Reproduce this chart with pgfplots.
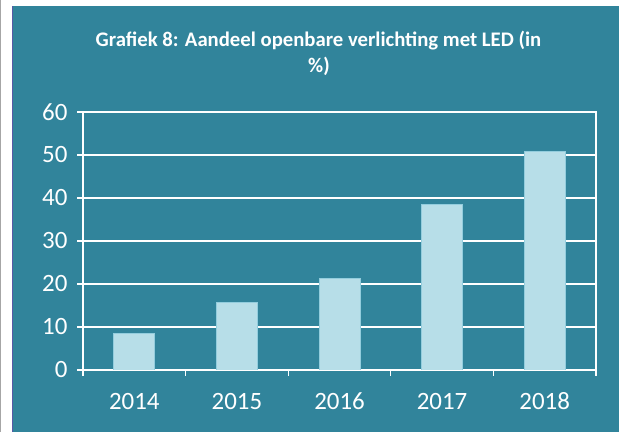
\documentclass[border=0pt]{standalone}
\usepackage{pgfplots}
\pgfplotsset{compat=1.18}
\usepackage{fontspec}
\setmainfont{Carlito}
\definecolor{bgteal}{HTML}{31849B}
\definecolor{barblue}{HTML}{B7DEE8}
\definecolor{barline}{HTML}{93CDDD}
\begin{document}
\begin{tikzpicture}[x=1bp,y=1bp]
\fill[white] (0,0) rectangle (619,432);
\fill[black!35] (0,0) rectangle (1.3,432);
\fill[bgteal] (12,0) rectangle (619,426);
\draw[blue!30!gray, line width=0.8bp] (12.4,0) -- (12.4,426);
\node[anchor=base, white, inner sep=0pt, font=\bfseries\fontsize{20.8}{24}\selectfont] at (318.5,385.3) {Grafiek 8: Aandeel openbare verlichting met LED (in};
\node[anchor=base, white, inner sep=0pt, font=\bfseries\fontsize{20.8}{24}\selectfont] at (319,359) {\%)};
\begin{axis}[
  at={(83bp,62bp)}, anchor=south west,
  scale only axis, width=513bp, height=258bp,
  ymin=0, ymax=60, xmin=-0.5, xmax=4.5,
  ytick={0,10,...,60},
  xtick={0,1,2,3,4},
  xticklabels={2014,2015,2016,2017,2018},
  minor xtick={-0.5,0.5,1.5,2.5,3.5,4.5},
  xtick pos=bottom, ytick pos=left,
  tick align=outside,
  major tick length=6bp,
  minor tick length=6bp,
  major x tick style={draw=none},
  tick style={white, line width=1.2bp},
  ymajorgrids,
  grid style={white, line width=1.5bp},
  axis line style={white, line width=1.5bp},
  ticklabel style={white, font=\fontsize{25}{30}\selectfont},
  /pgf/number format/assume math mode=true,
  yticklabel style={xshift=-6bp},
  xticklabel style={text height=16.5bp, text depth=0bp, yshift=-13bp},
  ybar, bar width=41bp,
]
\addplot[fill=barblue, draw=barline, line width=0.8bp] coordinates {(0,8.4) (1,15.8) (2,21.2) (3,38.6) (4,50.8)};
\end{axis}
\end{tikzpicture}
\end{document}
